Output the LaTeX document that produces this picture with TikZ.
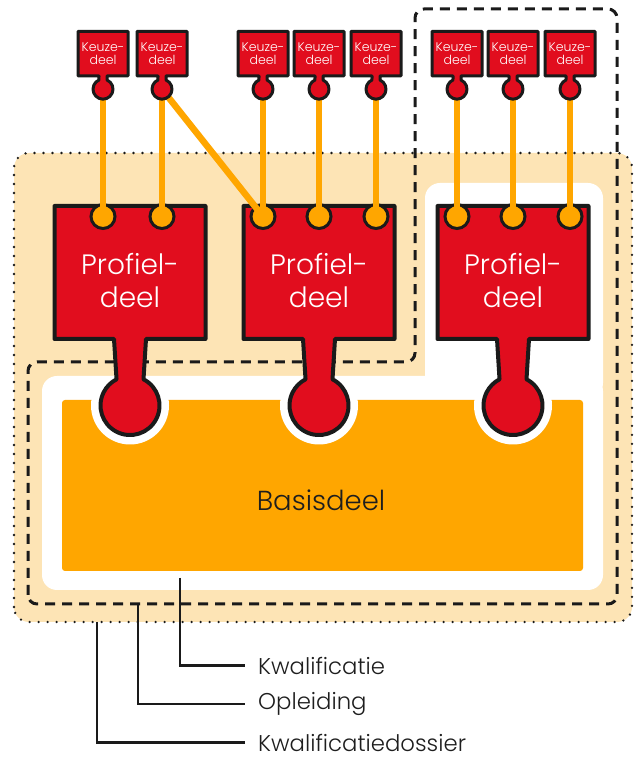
\documentclass[tikz,border=0pt]{standalone}
\usepackage{fontspec}
\setmainfont{Poppins}[UprightFont=* Light]
\usepackage{tikz}

\definecolor{puzzlered}{RGB}{225,13,30}
\definecolor{puzzleorange}{RGB}{255,166,0}
\definecolor{peach}{RGB}{253,228,181}
\definecolor{outline}{RGB}{26,26,26}
\definecolor{legendtext}{RGB}{30,30,30}

\begin{document}
\begin{tikzpicture}[x=1pt,y=1pt]
        \tikzstyle{every node} = [inner sep=0pt]
        \tikzstyle{keuzetext} = [text=white, align=center, font=\fontsize{12.5}{13}\selectfont]
        \tikzstyle{profieltext} = [text=white, align=center, font=\fontsize{28}{33}\selectfont]
        \tikzstyle{socket} = [circle, fill=puzzleorange, draw=outline, line width=3pt, minimum size=24pt]
        \tikzstyle{legend} = [anchor=west, text=legendtext, font=\fontsize{22.8}{26}\selectfont]
        \tikzstyle{pointer} = [draw=outline, line width=2.2pt]
        \useasboundingbox (0,0) rectangle (633,758);
        % kwalificatiedossier
        \fill[peach, rounded corners=15pt] (14,136) rectangle (632,605);
        \draw[outline, line width=2.6pt, line cap=round, dash pattern=on 0pt off 9pt, rounded corners=15pt] (14,136) rectangle (632,605);
        % kwalificatie
        \fill[white, rounded corners=15pt] (42,168) rectangle (603,382);
        \fill[white, rounded corners=15pt] (425,360) rectangle (603,575);
        % opleiding
        \draw[outline, line width=3pt, dash pattern=on 10pt off 7pt, rounded corners=9pt]
            (28,154) -- (28,396) -- (415,396) -- (415,749) -- (617,749) -- (617,154) -- cycle;
        % basisdeel
        \fill[puzzleorange, rounded corners=3pt] (62,187) rectangle (583,358);
        \node[font=\fontsize{27.5}{30}\selectfont, text=legendtext] (basis) at (321,258) {Basisdeel};
        \begin{scope}
            \clip (62,187) rectangle (583,358);
            \foreach \cx in {130,319,513}
                \fill[white] (\cx,352.5) circle (39);
        \end{scope}
        % profieldelen
        \foreach \cx/\nm in {130/p1, 319/p2, 513/p3} {
            \draw[fill=puzzlered, draw=outline, line width=4pt, line join=round]
                (\cx-75.5,552) -- (\cx+75.5,552) -- (\cx+75.5,419) -- (\cx+16,419) -- (\cx+13.5,378.7)
                arc[start angle=62.8, end angle=-242.8, radius=29.5]
                -- (\cx-16,419) -- (\cx-75.5,419) -- cycle;
            \node[profieltext] (\nm) at (\cx,477) {Profiel-\\deel};
        }
        % sockets
        \foreach \i/\cx in {1/103, 2/162, 3/263, 4/319, 5/376, 6/457, 7/513, 8/570}
            \node[socket] (s\i) at (\cx,541.5) {};
        % keuzedelen
        \foreach \i/\cx in {1/103, 2/162, 3/263, 4/319, 5/376, 6/457, 7/513, 8/570}
            \coordinate (kn\i) at (\cx,668.8);
        \foreach \from/\to in {kn1/s1, kn2/s2, kn2/s3, kn3/s3, kn4/s4, kn5/s5, kn6/s6, kn7/s7, kn8/s8}
            \draw[puzzleorange, line width=6.5pt] (\from) -- (\to.center);
        \foreach \i/\cx in {1/103, 2/162, 3/263, 4/319, 5/376, 6/457, 7/513, 8/570} {
            \draw[fill=puzzlered, draw=outline, line width=3pt, line join=round]
                (\cx-25,726.5) -- (\cx+25,726.5) -- (\cx+25,682) -- (\cx+4,682) -- (\cx+4,678)
                arc[start angle=66.4, end angle=-246.4, radius=10]
                -- (\cx-4,682) -- (\cx-25,682) -- cycle;
            \node[keuzetext] (k\i) at (\cx,704) {Keuze-\\deel};
        }
        % legenda
        \coordinate (kwtop) at (180,180);
        \coordinate (optop) at (138,154);
        \coordinate (dostop) at (97,136);
        \node[legend] (kw) at (258,92.5) {Kwalificatie};
        \node[legend] (op) at (258,54) {Opleiding};
        \node[legend] (dos) at (258,15.5) {Kwalificatiedossier};
        \foreach \from/\to in {kwtop/kw, optop/op, dostop/dos}
            \draw[pointer] (\from) |- ([xshift=-13pt]\to.west);
    \end{tikzpicture}
\end{document}
